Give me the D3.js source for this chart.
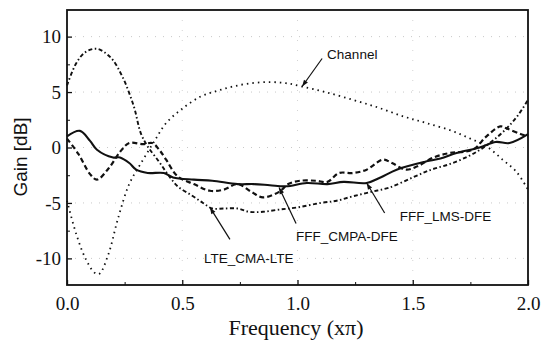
<!DOCTYPE html>
<html>
<head>
<meta charset="utf-8">
<script src="https://cdn.jsdelivr.net/npm/d3@7"></script>
<style>
  body { margin: 0; background: #fff; }
  svg { display: block; }
</style>
</head>
<body>
<div id="chart"></div>
<script>
// values (frequency in units of pi, gain in dB)
var channelF = [0, 0.04, 0.08, 0.12, 0.14, 0.18, 0.22, 0.27, 0.33, 0.38, 0.43, 0.50, 0.58, 0.65, 0.72, 0.80, 0.88, 0.95, 1.02, 1.12, 1.24, 1.35, 1.46, 1.56, 1.67, 1.75, 1.82, 1.89, 1.95, 2.0];
var channelG = [-4.8, -7.8, -10.0, -11.3, -11.4, -9.6, -6.5, -3.3, -1.1, 0.6, 2.2, 3.5, 4.6, 5.1, 5.5, 5.8, 5.9, 5.8, 5.5, 5.0, 4.3, 3.6, 2.8, 2.2, 1.5, 0.8, 0.1, -1.1, -2.2, -3.8];

var lteF = [0, 0.04, 0.08, 0.13, 0.19, 0.24, 0.29, 0.32, 0.35, 0.40, 0.44, 0.48, 0.54, 0.59, 0.63, 0.68, 0.74, 0.79, 0.85, 0.92, 1.0, 1.1, 1.17, 1.24, 1.32, 1.40, 1.50, 1.58, 1.66, 1.74, 1.80, 1.87, 1.92, 1.96, 2.0];
var lteG = [5.6, 7.6, 8.6, 8.9, 8.1, 6.4, 3.7, 1.3, 0.1, -1.3, -2.5, -3.5, -4.3, -5.0, -5.5, -5.5, -5.5, -5.8, -5.8, -5.6, -5.4, -5.0, -4.8, -4.4, -4.0, -3.6, -2.7, -2.0, -1.5, -0.8, -0.1, 1.0, 2.0, 3.0, 4.3];

var lmsF = [0, 0.056, 0.10, 0.13, 0.20, 0.23, 0.27, 0.30, 0.35, 0.42, 0.46, 0.55, 0.63, 0.74, 0.81, 0.88, 0.95, 1.04, 1.13, 1.20, 1.30, 1.36, 1.43, 1.55, 1.62, 1.69, 1.79, 1.86, 1.92, 2.0];
var lmsG = [1.0, 1.5, 0.6, -0.2, -0.9, -0.9, -1.4, -2.0, -2.3, -2.3, -2.7, -2.9, -3.0, -3.3, -3.3, -3.4, -3.5, -3.2, -3.3, -3.1, -3.2, -2.7, -2.0, -1.3, -1.0, -0.5, 0.0, 0.5, 0.4, 1.2];

var cmpaF = [0, 0.05, 0.10, 0.13, 0.18, 0.23, 0.27, 0.33, 0.37, 0.40, 0.43, 0.48, 0.55, 0.62, 0.68, 0.74, 0.80, 0.85, 0.92, 0.96, 1.01, 1.08, 1.13, 1.18, 1.24, 1.30, 1.37, 1.41, 1.47, 1.52, 1.59, 1.66, 1.76, 1.82, 1.88, 1.91, 1.97, 2.0];
var cmpaG = [0.8, -0.6, -2.4, -2.9, -1.9, -0.4, 0.4, 0.3, 0.4, -0.2, -1.1, -2.6, -3.3, -3.9, -3.8, -3.3, -4.0, -4.5, -4.0, -3.3, -3.0, -3.0, -3.1, -2.3, -2.3, -2.0, -1.1, -1.4, -2.0, -1.7, -0.9, -0.5, -0.2, 1.0, 1.9, 1.7, 1.2, 1.0];

var xTicks = [0, 0.5, 1.0, 1.5, 2.0];
var xMinor = [0.25, 0.75, 1.25, 1.75];
var yTicks = [-10, -5, 0, 5, 10];
var yMinor = [-7.5, -2.5, 2.5, 7.5];

var W = 554, H = 343;
var mL = 67, mR = 528, mT = 10, mB = 285;

var svg = d3.select("#chart").append("svg")
    .attr("width", W)
    .attr("height", H);

var x = d3.scaleLinear().domain([0, 2]).range([mL, mR]);
var y = d3.scaleLinear().domain([-12.4, 12.4]).range([mB, mT]);

// faint dotted grid, like the scan
var grid = svg.append("g");
grid.selectAll("line.gy").data(yTicks).enter().append("line")
    .attr("x1", mL).attr("x2", mR)
    .attr("y1", function(d){ return y(d); }).attr("y2", function(d){ return y(d); })
    .attr("stroke", "#c8c8c8").attr("stroke-width", 1).attr("stroke-dasharray", "1 7");
grid.selectAll("line.gx").data(xTicks.slice(1, 4)).enter().append("line")
    .attr("y1", mT).attr("y2", mB)
    .attr("x1", function(d){ return x(d); }).attr("x2", function(d){ return x(d); })
    .attr("stroke", "#d4d4d4").attr("stroke-width", 1).attr("stroke-dasharray", "1 9");

// axes, ticks inward
var xAxis = d3.axisBottom(x).tickValues(xTicks).tickSize(-5).tickPadding(12)
    .tickFormat(d3.format(".1f"));
var gx = svg.append("g").attr("transform", "translate(0," + mB + ")").call(xAxis);
gx.selectAll("text").attr("font-family", "Liberation Serif, Times New Roman, serif")
    .attr("font-size", 19).attr("fill", "#111");
gx.selectAll("line").attr("stroke", "#111").attr("stroke-width", 1.3);
gx.select(".domain").remove();
svg.append("g").attr("transform", "translate(0," + mB + ")")
    .call(d3.axisBottom(x).tickValues(xMinor).tickSize(-3).tickFormat(""))
    .call(function(g){ g.select(".domain").remove(); g.selectAll("line").attr("stroke", "#111"); });

var yAxis = d3.axisLeft(y).tickValues(yTicks).tickSize(-5).tickPadding(6)
    .tickFormat(function(d){ return String(d); });
var gy = svg.append("g").attr("transform", "translate(" + mL + ",0)").call(yAxis);
gy.selectAll("text").attr("font-family", "Liberation Serif, Times New Roman, serif")
    .attr("font-size", 19).attr("fill", "#111");
gy.selectAll("line").attr("stroke", "#111").attr("stroke-width", 1.3);
gy.select(".domain").remove();
svg.append("g").attr("transform", "translate(" + mL + ",0)")
    .call(d3.axisLeft(y).tickValues(yMinor).tickSize(-3).tickFormat(""))
    .call(function(g){ g.select(".domain").remove(); g.selectAll("line").attr("stroke", "#111"); });

// frame
svg.append("rect")
    .attr("x", mL).attr("y", mT)
    .attr("width", mR - mL).attr("height", mB - mT)
    .attr("fill", "none").attr("stroke", "#111").attr("stroke-width", 1.8);

// curves
var series = [
    {f: channelF, g: channelG, w: 1.8, dash: "1.5 4"},
    {f: lteF, g: lteG, w: 1.9, dash: "4 2.5 1.5 2.5"},
    {f: cmpaF, g: cmpaG, w: 2.2, dash: "5 3"},
    {f: lmsF, g: lmsG, w: 2.1, dash: null}
];
var line = d3.line()
    .x(function(d){ return x(d[0]); })
    .y(function(d){ return y(d[1]); })
    .curve(d3.curveCatmullRom.alpha(0.5));
series.forEach(function(s){
    var pts = s.f.map(function(f, i){ return [f, s.g[i]]; });
    svg.append("path")
        .attr("d", line(pts))
        .attr("fill", "none")
        .attr("stroke", "#111")
        .attr("stroke-width", s.w)
        .attr("stroke-dasharray", s.dash);
});

// annotations: arrow tip sits on the curve, text offset in pixels
var notes = [
    {text: "Channel", f: 1.02, g: 5.5, ax: 20, ay: -28, tx: 25, ty: -28},
    {text: "LTE_CMA-LTE", f: 0.62, g: -5.4, ax: 20, ay: 32, tx: -6, ty: 56},
    {text: "FFF_CMPA-DFE", f: 0.92, g: -3.6, ax: 17, ay: 36, tx: 17, ty: 54},
    {text: "FFF_LMS-DFE", f: 1.30, g: -3.2, ax: 18, ay: 30, tx: 33, ty: 38}
];
notes.forEach(function(n){
    var px = x(n.f), py = y(n.g);
    var ex = px + n.ax, ey = py + n.ay;
    svg.append("line")
        .attr("x1", ex).attr("y1", ey).attr("x2", px).attr("y2", py)
        .attr("stroke", "#111").attr("stroke-width", 1.2);
    var ang = Math.atan2(ey - py, ex - px);
    var a1 = ang + 0.35, a2 = ang - 0.35, L = 7;
    svg.append("path")
        .attr("d", "M" + px + "," + py +
            " L" + (px + L * Math.cos(a1)) + "," + (py + L * Math.sin(a1)) +
            " L" + (px + L * Math.cos(a2)) + "," + (py + L * Math.sin(a2)) + " Z")
        .attr("fill", "#111");
    svg.append("text")
        .attr("x", px + n.tx).attr("y", py + n.ty)
        .attr("font-family", "Liberation Sans, Arial, sans-serif")
        .attr("font-size", 13.5)
        .attr("fill", "#111")
        .text(n.text);
});

// axis titles
svg.append("text")
    .attr("x", 296).attr("y", 335)
    .attr("text-anchor", "middle")
    .attr("font-family", "Liberation Serif, Times New Roman, serif")
    .attr("font-size", 22)
    .attr("fill", "#111")
    .text("Frequency (x\u03c0)");
svg.append("text")
    .attr("transform", "translate(27,157) rotate(-90)")
    .attr("text-anchor", "middle")
    .attr("font-family", "Liberation Sans, Arial, sans-serif")
    .attr("font-size", 19)
    .attr("fill", "#111")
    .text("Gain [dB]");
</script>
</body>
</html>
